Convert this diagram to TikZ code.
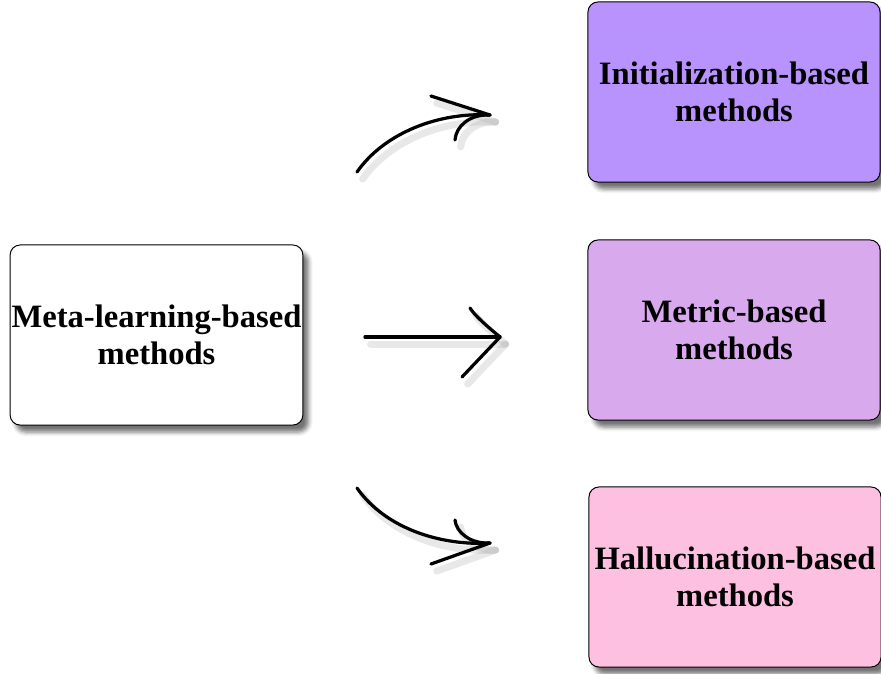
\documentclass[tikz,border=0pt]{standalone}
\usepackage{fontspec}
\setmainfont{Liberation Serif}
\usetikzlibrary{shadows.blur}
\definecolor{initc}{HTML}{B893FE}
\definecolor{metricc}{HTML}{D9A9EE}
\definecolor{hallc}{HTML}{FEC0E1}
\tikzset{
  methodbox/.style={draw=black, line width=0.7pt, rounded corners=0.25cm,
    minimum width=7.3cm, minimum height=4.5cm, align=center, inner sep=1pt,
    font=\bfseries\fontsize{23.2}{26.5}\selectfont,
    blur shadow={shadow xshift=4pt, shadow yshift=-5pt, shadow blur radius=3pt, shadow opacity=55}},
  hand/.style={line width=2.3pt, line cap=round},
  handshadow/.style={line width=5pt, line cap=round, draw=black!30, opacity=.3,
    transform canvas={shift={(4pt,-5pt)}}}
}
\begin{document}
\begin{tikzpicture}[x=0.025cm, y=-0.025cm]
    \useasboundingbox (0,0) rectangle (881,673);
    \node[methodbox, fill=white] (meta) at (156.5,335) {Meta-learning-based\\methods};
    \node[methodbox, fill=initc] (init) at (734,92) {Initialization-based\\methods};
    \node[methodbox, fill=metricc] (metric) at (734,330) {Metric-based\\methods};
    \node[methodbox, fill=hallc] (hall) at (735,577) {Hallucination-based\\methods};
    % free ends of the hand drawn arrows
    \coordinate (up0) at (357,172);
    \coordinate (up1) at (490,115);
    \coordinate (mid0) at (365,337);
    \coordinate (mid1) at (500,337);
    \coordinate (low0) at (357,488);
    \coordinate (low1) at (490,543);
    \foreach \st in {handshadow, hand} {
      \draw[\st] (up0) .. controls (385,132) and (440,112) .. (up1);
      \draw[\st] (up1) -- (431,96);
      \draw[\st] (up1) .. controls (470,114) and (456,126) .. (455,140);
      \draw[\st] (mid0) -- (mid1);
      \draw[\st] (mid1) .. controls (488,327) and (475,316) .. (470,308);
      \draw[\st] (mid1) -- (462,377);
      \draw[\st] (low0) .. controls (385,528) and (440,546) .. (low1);
      \draw[\st] (low1) -- (431,564);
      \draw[\st] (low1) .. controls (470,544) and (456,532) .. (455,520);
    }
\end{tikzpicture}
\end{document}
